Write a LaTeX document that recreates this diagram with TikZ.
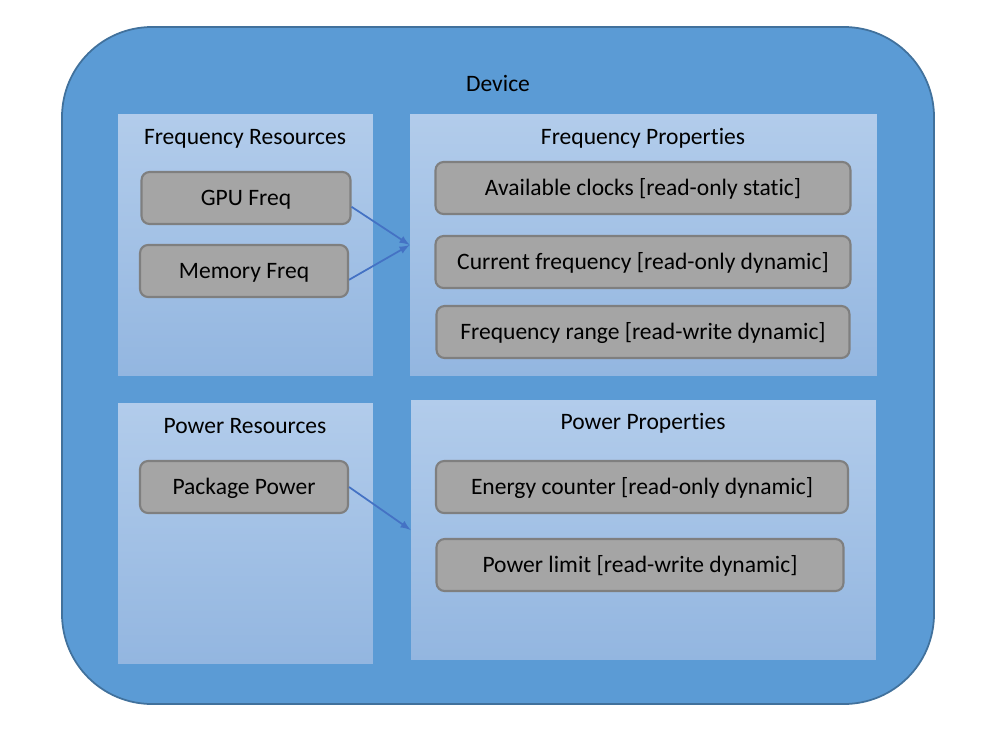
\documentclass[tikz,border=0pt]{standalone}
\usepackage{fontspec}
\setmainfont{Carlito}[Ligatures=NoCommon]
\usepackage{tikz}
\usetikzlibrary{positioning}
\usepackage{xcolor}
\definecolor{devblue}{HTML}{5B9BD5}
\definecolor{devline}{HTML}{41719C}
\definecolor{paneltop}{HTML}{B2CCEB}
\definecolor{panelbot}{HTML}{93B6E0}
\definecolor{boxgray}{HTML}{A5A5A5}
\definecolor{boxline}{HTML}{7F7F7F}
\definecolor{arrowblue}{HTML}{4472C4}

\begin{document}
\begin{tikzpicture}[x=0.02cm, y=-0.02cm, font=\fontsize{13.4}{16}\selectfont,
	device/.style={draw=devline, line width=1pt, fill=devblue, rounded corners=1.8cm},
	panel/.style={top color=paneltop, bottom color=panelbot, inner sep=0pt},
	heading/.style={text height=8.6pt, text depth=0pt, inner sep=0pt},
	item/.style={draw=boxline, line width=1.2pt, fill=boxgray, rounded corners=0.16cm, minimum height=1.04cm, inner sep=0pt, text height=8.6pt, text depth=0pt},
	link/.style={-latex, draw=arrowblue, line width=1pt}]
\useasboundingbox (0,0) rectangle (1000,748);
% outer device
\draw [device] (62,27) rectangle (934,704);
\node [heading] (device) at (498,84) {Device};
% frequency side
\node [panel, minimum width=5.1cm, minimum height=5.24cm] (freqres) at (245.5,245) {};
\node [heading] (freqrestitle) at (245,137) {Frequency Resources};
\node [item, minimum width=4.18cm] (gpufreq) at (246,198) {GPU Freq};
\node [item, minimum width=4.16cm] (memfreq) at (244,271) {Memory Freq};
\node [panel, minimum width=9.34cm, minimum height=5.24cm] (freqprop) at (643.5,245) {};
\node [heading] (freqproptitle) at (643,137) {Frequency Properties};
\node [item, minimum width=8.3cm] (clocks) at (643,188) {Available clocks [read-only static]};
\node [item, minimum width=8.3cm] (curfreq) at (643,262) {Current frequency [read-only dynamic]};
\node [item, minimum width=8.26cm] (freqrange) at (643,332) {Frequency range [read-write dynamic]};
% power side
\node [panel, minimum width=5.1cm, minimum height=5.22cm] (powres) at (245.5,533.5) {};
\node [heading] (powrestitle) at (245,426) {Power Resources};
\node [item, minimum width=4.16cm] (pkgpower) at (244,487) {Package Power};
\node [panel, minimum width=9.3cm, minimum height=5.2cm] (powprop) at (643.5,530) {};
\node [heading] (powproptitle) at (643,422) {Power Properties};
\node [item, minimum width=8.24cm] (energy) at (642,487) {Energy counter [read-only dynamic]};
\node [item, minimum width=8.14cm] (powlimit) at (640,565) {Power limit [read-write dynamic]};
% links
\draw [link] ([yshift=-5pt]gpufreq.east) -- (freqprop.west);
\draw [link] ([yshift=-5pt]memfreq.east) -- (freqprop.west);
\draw [link] (pkgpower.east) -- (powprop.west);
\end{tikzpicture}
\end{document}
